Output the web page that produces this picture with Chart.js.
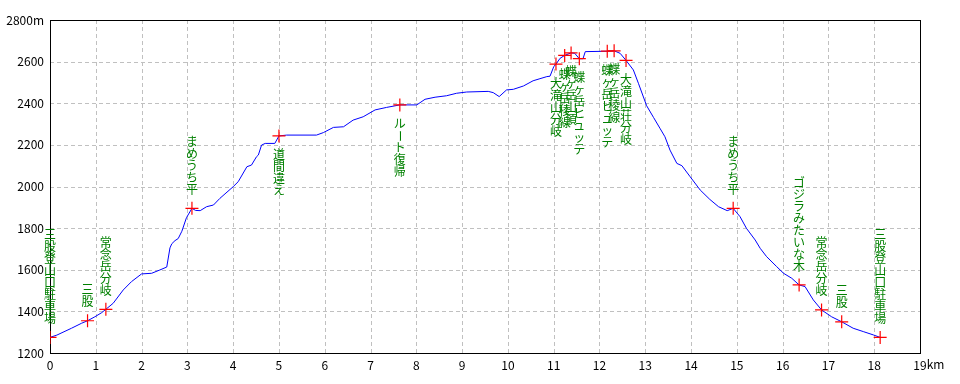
<!DOCTYPE html>
<html><head><meta charset="utf-8">
<script src="https://cdn.jsdelivr.net/npm/chart.js@4/dist/chart.umd.min.js"></script>
<style>html,body{margin:0;padding:0;background:#fff}#wrap{width:960px;height:384px}</style>
</head><body><div id="wrap"><canvas id="c" width="960" height="384"></canvas></div>
<script>
// Elevation profile (distance km, elevation m)
const distKm = [0.00,0.15,0.47,0.69,0.82,0.98,1.13,1.22,1.38,1.60,1.78,2.00,2.22,2.40,2.55,2.62,2.66,2.73,2.80,2.88,2.98,3.10,3.18,3.28,3.42,3.57,3.71,4.00,4.11,4.30,4.40,4.51,4.55,4.62,4.70,4.91,5.00,5.17,5.82,5.97,6.19,6.41,6.62,6.84,7.10,7.35,7.64,8.01,8.19,8.41,8.66,8.88,9.10,9.57,9.68,9.81,9.97,10.12,10.34,10.55,10.70,10.85,10.92,11.00,11.05,11.14,11.24,11.38,11.46,11.56,11.64,11.69,12.17,12.32,12.45,12.58,12.74,12.85,13.03,13.18,13.32,13.43,13.54,13.69,13.80,13.98,14.20,14.41,14.60,14.79,14.92,15.07,15.21,15.40,15.51,15.65,15.87,16.02,16.20,16.36,16.49,16.67,16.85,17.07,17.29,17.54,17.76,17.98,18.13];
const elevM  = [1275,1286,1319,1343,1355,1374,1394,1410,1439,1503,1543,1580,1583,1599,1613,1705,1725,1740,1750,1785,1850,1895,1885,1884,1903,1911,1943,1999,2023,2095,2103,2143,2151,2199,2207,2207,2243,2247,2247,2259,2284,2287,2319,2335,2368,2380,2392,2392,2419,2429,2436,2448,2454,2457,2451,2432,2464,2467,2483,2508,2518,2528,2530,2575,2588,2616,2630,2642,2640,2614,2614,2648,2650,2652,2640,2606,2560,2496,2388,2332,2280,2239,2175,2111,2100,2047,1983,1938,1903,1884,1895,1855,1799,1743,1703,1663,1615,1583,1559,1527,1519,1455,1407,1374,1350,1319,1303,1287,1275];

// Waypoints
const wpKm    = [0.00,0.82,1.22,3.10,5.00,7.64,11.05,11.24,11.38,11.56,12.17,12.32,12.58,14.92,16.36,16.85,17.29,18.13];
const wpElev  = [1275,1355,1410,1895,2243,2392,2588,2630,2642,2614,2650,2652,2606,1895,1527,1407,1350,1275];
const wpNames = ["三股登山口駐車場","三股","常念岳分岐","まめうち平","道間違え","ルート復帰","大滝山分岐","蝶ヶ岳稜線","蝶ヶ岳山頂","蝶ヶ岳ヒュッテ","蝶ヶ岳ヒュッテ","蝶ヶ岳稜線","大滝山荘分岐","まめうち平","ゴジラみたいな木","常念岳分岐","三股","三股登山口駐車場"];
const wpSide  = ["above","above","above","above","below","below","below","below","below","below","below","below","below","above","above","above","above","above"];

// Axis settings
const xMin = 0, xMax = 19, xStep = 1, xUnit = "km";
const yMin = 1200, yMax = 2800, yStep = 200, yUnit = "m";

const FONT = '"Noto Sans CJK JP", "DejaVu Sans", sans-serif';

const profile = distKm.map((d,i)=>({x:d,y:elevM[i]}));
const points = wpKm.map((d,i)=>({x:d,y:wpElev[i]}));

const gridPlugin = {
  id:'gridFrame',
  beforeDatasetsDraw(chart){
    const {ctx, chartArea:a, scales:{x,y}} = chart;
    ctx.save();
    ctx.strokeStyle = '#c0c0c0';
    ctx.lineWidth = 1;
    ctx.setLineDash([4,3]);
    x.ticks.forEach(t=>{
      const px = Math.round(x.getPixelForValue(t.value))+0.5;
      ctx.beginPath(); ctx.moveTo(px,a.top); ctx.lineTo(px,a.bottom); ctx.stroke();
    });
    y.ticks.forEach(t=>{
      const py = Math.round(y.getPixelForValue(t.value))+0.5;
      ctx.beginPath(); ctx.moveTo(a.left,py); ctx.lineTo(a.right,py); ctx.stroke();
    });
    ctx.setLineDash([]);
    ctx.strokeStyle = '#000';
    ctx.strokeRect(Math.round(a.left)+0.5, Math.round(a.top)+0.5, Math.round(a.right-a.left), Math.round(a.bottom-a.top));
    ctx.restore();
  },
  afterDraw(chart){
    const {ctx, scales:{x}} = chart;
    ctx.save();
    ctx.font = '12px ' + FONT;
    ctx.fillStyle = '#000';
    ctx.textBaseline = 'middle';
    const lastPx = x.getPixelForValue(xMax);
    const w = ctx.measureText(String(xMax)).width;
    ctx.textAlign = 'left';
    ctx.fillText(xUnit, lastPx + w/2, x.top + 11);
    ctx.restore();
  }
};

const labelPlugin = {
  id:'wpLabels',
  afterDatasetsDraw(chart){
    const {ctx, scales:{x,y}} = chart;
    ctx.save();
    ctx.font = '12px ' + FONT;
    ctx.fillStyle = '#008000';
    ctx.textAlign = 'center';
    ctx.textBaseline = 'middle';
    const step = 12, gap = 19;
    wpNames.forEach((name,i)=>{
      const px = x.getPixelForValue(wpKm[i]);
      const py = y.getPixelForValue(wpElev[i]);
      const chars = Array.from(name);
      const n = chars.length;
      chars.forEach((ch,j)=>{
        let cy;
        if (wpSide[i]==='above') cy = py - gap - (n-1-j)*step;
        else cy = py + gap + j*step;
        if (ch==='ー'){
          ctx.save(); ctx.translate(px,cy); ctx.rotate(Math.PI/2); ctx.fillText(ch,0,0); ctx.restore();
        } else {
          ctx.fillText(ch, px, cy);
        }
      });
    });
    ctx.restore();
  }
};

new Chart(document.getElementById('c'), {
  type:'scatter',
  data:{datasets:[
    {data:points, showLine:false, pointStyle:'cross', pointRadius:6.5, pointHoverRadius:6.5, borderColor:'#ff0000', backgroundColor:'#ff0000', borderWidth:1.2, order:0},
    {data:profile, showLine:true, borderColor:'#0000ff', borderWidth:1, pointRadius:0, tension:0, fill:false, order:1}
  ]},
  options:{
    responsive:false, animation:false, devicePixelRatio:1,
    layout:{padding:{top:20,right:40,left:0,bottom:0}},
    plugins:{legend:{display:false}, tooltip:{enabled:false}},
    scales:{
      x:{type:'linear', min:xMin, max:xMax,
         grid:{display:false, drawTicks:false, tickLength:0}, border:{display:false},
         ticks:{stepSize:xStep, color:'#000', font:{family:FONT,size:12}, padding:5, maxRotation:0, autoSkip:false,
                callback:v=>String(v)},
         afterFit(s){s.height=31;}},
      y:{type:'linear', min:yMin, max:yMax,
         grid:{display:false, drawTicks:false, tickLength:0}, border:{display:false},
         ticks:{stepSize:yStep, color:'#000', font:{family:FONT,size:12}, padding:6,
                callback:v=> v===yMax ? v+yUnit : String(v)},
         afterFit(s){s.width=50;}}
    }
  },
  plugins:[gridPlugin,labelPlugin]
});
</script></body></html>
